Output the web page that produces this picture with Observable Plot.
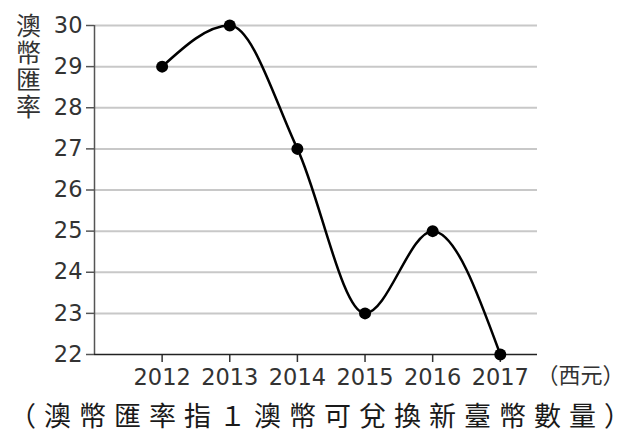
<!DOCTYPE html>
<html><head><meta charset="utf-8">
<script src="https://cdn.jsdelivr.net/npm/d3@7"></script>
<script src="https://cdn.jsdelivr.net/npm/@observablehq/plot@0.6"></script>
<style>
body{margin:0;background:#fff;}
#caption{font-family:"Noto Sans CJK TC";font-size:27px;letter-spacing:8px;color:#1a1a1a;height:38px;line-height:40px;padding-top:5px;padding-left:9px;white-space:nowrap;overflow:visible;}
.ytitle text{writing-mode:vertical-rl;text-orientation:upright;letter-spacing:2px;}
</style></head><body>
<div id="chart"></div>
<div id="caption"></div>
<script>
const years = [2012, 2013, 2014, 2015, 2016, 2017];
const rates = [29, 30, 27, 23, 25, 22];
const yTicks = [22, 23, 24, 25, 26, 27, 28, 29, 30];
const gridValues = [23, 24, 25, 26, 27, 28, 29, 30];
const yTitle = "澳幣匯率";
const xUnit = "（西元）";
const caption = "（澳幣匯率指１澳幣可兌換新臺幣數量）";
const data = years.map((year, i) => ({year, rate: rates[i]}));

const plot = Plot.plot({
  width: 641, height: 390,
  marginTop: 25, marginBottom: 36, marginLeft: 94, marginRight: 104,
  style: {fontFamily: "DejaVu Sans", fontSize: "22.5px", color: "#333", background: "#fff", overflow: "visible"},
  x: {type: "linear", domain: [2011, 2017.55]},
  y: {domain: [22, 30]},
  marks: [
    Plot.ruleY(gridValues, {stroke: "#c8c8c8", strokeWidth: 2}),
    Plot.axisY(yTicks, {tickSize: 8, tickPadding: 4, stroke: "#555", strokeWidth: 1.5, label: null, tickFormat: d => String(d)}),
    Plot.axisX(years, {tickSize: 8, tickPadding: 7, label: null, tickFormat: d => String(d), stroke: "#333", strokeWidth: 1.5}),
    Plot.ruleX([2011], {stroke: "#555", strokeWidth: 1.5}),
    Plot.ruleY([22], {stroke: "#222", strokeWidth: 1.5}),
    Plot.line(data, {x: "year", y: "rate", curve: "monotone-x", stroke: "#000", strokeWidth: 2.5}),
    Plot.dot(data, {x: "year", y: "rate", r: 6, fill: "#000"}),
    Plot.text([yTitle], {className: "ytitle", frameAnchor: "top-left", textAnchor: "start", lineAnchor: "middle", dx: -66, dy: -21, fontSize: 25, fontFamily: "Noto Sans CJK TC", fill: "#333"}),
    Plot.text([xUnit], {frameAnchor: "bottom-right", textAnchor: "start", dx: -1, dy: 28, fontSize: 22, fontFamily: "Noto Sans CJK TC", fill: "#333"})
  ]
});
document.getElementById("chart").appendChild(plot);
document.getElementById("caption").textContent = caption;
</script>
</body></html>
